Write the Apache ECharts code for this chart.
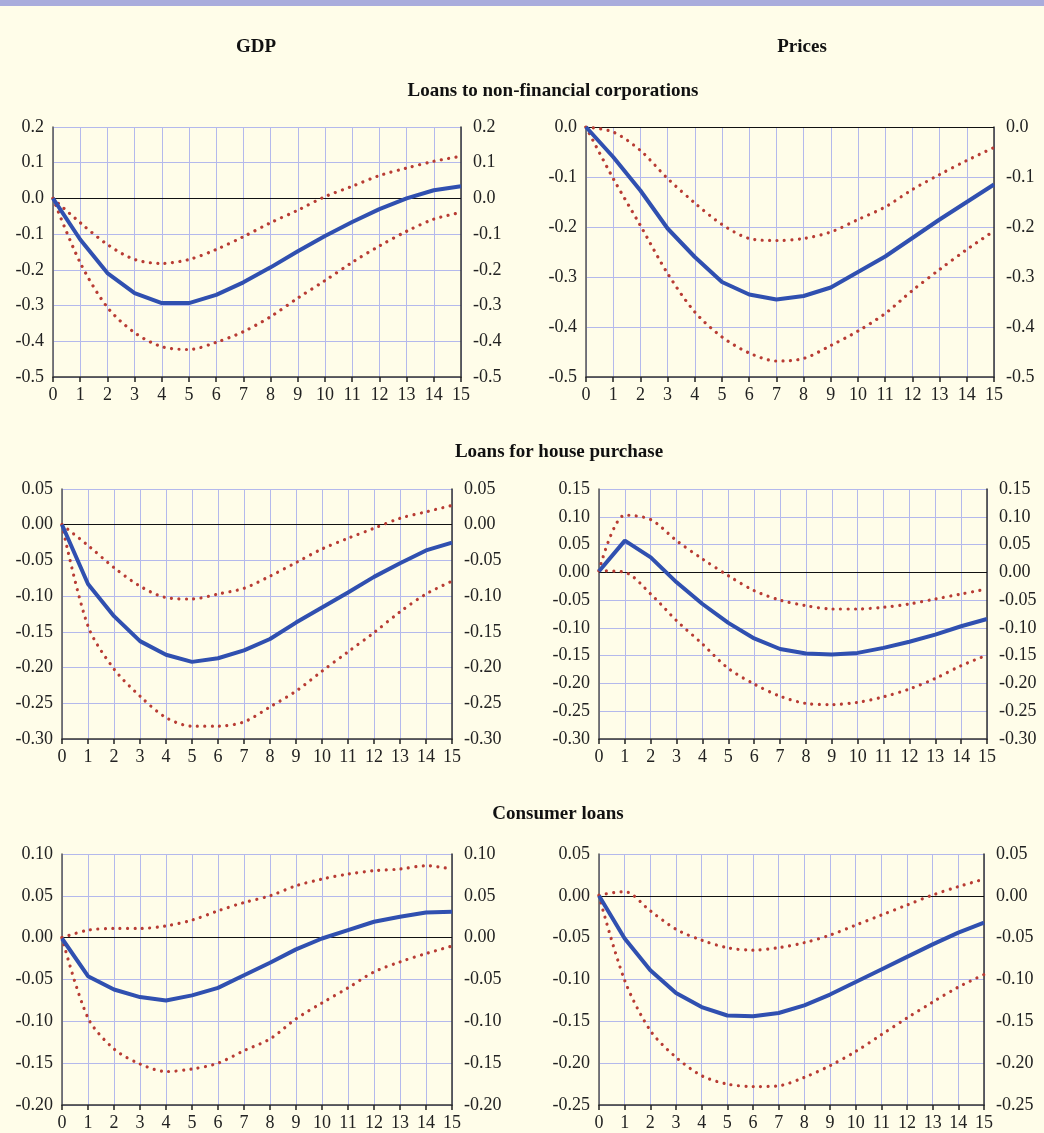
<!DOCTYPE html>
<html>
<head>
<meta charset="utf-8">
<script src="https://cdn.jsdelivr.net/npm/echarts@6/dist/echarts.min.js"></script>
<style>
  html, body { margin: 0; padding: 0; background: #fffde9; }
  #main { width: 1044px; height: 1133px; }
</style>
</head>
<body>
<div id="main"></div>
<script>
// horizon (quarters after the shock)
const steps = [0, 1, 2, 3, 4, 5, 6, 7, 8, 9, 10, 11, 12, 13, 14, 15]

// Loans to non-financial corporations
const gdpNfcMid = [0, -0.115, -0.209, -0.265, -0.293, -0.293, -0.27, -0.235, -0.193, -0.148, -0.105, -0.066, -0.03, 0.0, 0.023, 0.034]
const gdpNfcHigh = [0, -0.068, -0.129, -0.171, -0.182, -0.171, -0.143, -0.107, -0.068, -0.033, 0.005, 0.034, 0.064, 0.085, 0.104, 0.118]
const gdpNfcLow = [0, -0.18, -0.305, -0.376, -0.415, -0.423, -0.403, -0.373, -0.331, -0.279, -0.23, -0.179, -0.133, -0.092, -0.058, -0.039]
const priNfcMid = [0, -0.06, -0.127, -0.203, -0.26, -0.31, -0.335, -0.345, -0.338, -0.321, -0.29, -0.259, -0.222, -0.185, -0.15, -0.115]
const priNfcHigh = [0, -0.01, -0.047, -0.103, -0.152, -0.195, -0.223, -0.227, -0.223, -0.21, -0.185, -0.16, -0.125, -0.095, -0.067, -0.041]
const priNfcLow = [0, -0.103, -0.197, -0.293, -0.37, -0.42, -0.452, -0.468, -0.463, -0.437, -0.408, -0.373, -0.327, -0.285, -0.245, -0.208]

// Loans for house purchase
const gdpHouseMid = [0, -0.083, -0.128, -0.163, -0.182, -0.192, -0.187, -0.176, -0.16, -0.137, -0.116, -0.095, -0.073, -0.054, -0.036, -0.025]
const gdpHouseHigh = [0, -0.029, -0.06, -0.086, -0.102, -0.104, -0.097, -0.089, -0.072, -0.053, -0.034, -0.019, -0.005, 0.009, 0.018, 0.027]
const gdpHouseLow = [0, -0.142, -0.202, -0.24, -0.27, -0.282, -0.282, -0.276, -0.255, -0.233, -0.205, -0.178, -0.151, -0.122, -0.097, -0.079]
const priHouseMid = [0.002, 0.057, 0.027, -0.018, -0.057, -0.091, -0.119, -0.138, -0.146, -0.148, -0.145, -0.136, -0.125, -0.112, -0.097, -0.084]
const priHouseHigh = [0.003, 0.103, 0.095, 0.057, 0.024, -0.006, -0.033, -0.05, -0.06, -0.066, -0.066, -0.063, -0.057, -0.048, -0.039, -0.03]
const priHouseLow = [0.003, 0.0, -0.039, -0.087, -0.129, -0.173, -0.201, -0.223, -0.236, -0.238, -0.234, -0.224, -0.21, -0.191, -0.168, -0.149]

// Consumer loans
const gdpConsMid = [-0.001, -0.046, -0.062, -0.071, -0.075, -0.069, -0.06, -0.045, -0.03, -0.014, -0.001, 0.009, 0.019, 0.025, 0.03, 0.031]
const gdpConsHigh = [0, 0.009, 0.011, 0.011, 0.014, 0.021, 0.032, 0.042, 0.05, 0.062, 0.07, 0.076, 0.08, 0.082, 0.086, 0.082]
const gdpConsLow = [0, -0.096, -0.133, -0.151, -0.16, -0.157, -0.15, -0.135, -0.121, -0.097, -0.078, -0.06, -0.041, -0.029, -0.019, -0.01]
const priConsMid = [0, -0.051, -0.089, -0.116, -0.133, -0.143, -0.144, -0.14, -0.131, -0.118, -0.103, -0.088, -0.073, -0.058, -0.044, -0.032]
const priConsHigh = [0.001, 0.005, -0.018, -0.04, -0.053, -0.062, -0.065, -0.062, -0.056, -0.047, -0.035, -0.023, -0.011, 0.001, 0.011, 0.02]
const priConsLow = [0, -0.101, -0.161, -0.193, -0.215, -0.225, -0.228, -0.227, -0.217, -0.203, -0.186, -0.166, -0.146, -0.127, -0.109, -0.094]

const colTitles = ["GDP", "Prices"]
const rowTitles = ["Loans to non-financial corporations", "Loans for house purchase", "Consumer loans"]

const panels = [
  { box: [53, 127, 408, 250], min: -0.5, max: 0.2, step: 0.1, dec: 1, mid: gdpNfcMid, hi: gdpNfcHigh, lo: gdpNfcLow },
  { box: [586, 127, 408, 250], min: -0.5, max: 0, step: 0.1, dec: 1, mid: priNfcMid, hi: priNfcHigh, lo: priNfcLow },
  { box: [62, 489, 390, 250], min: -0.3, max: 0.05, step: 0.05, dec: 2, mid: gdpHouseMid, hi: gdpHouseHigh, lo: gdpHouseLow },
  { box: [599, 489, 388, 250], min: -0.3, max: 0.15, step: 0.05, dec: 2, mid: priHouseMid, hi: priHouseHigh, lo: priHouseLow },
  { box: [62, 854, 390, 251], min: -0.2, max: 0.1, step: 0.05, dec: 2, mid: gdpConsMid, hi: gdpConsHigh, lo: gdpConsLow },
  { box: [599, 854, 385, 251], min: -0.25, max: 0.05, step: 0.05, dec: 2, mid: priConsMid, hi: priConsHigh, lo: priConsLow },
]

const serif = "Liberation Serif, Times New Roman, serif"
const gridColor = "#b4b9ec"
const axisColor = "#555"

function pairs(vals) {
  return steps.map((s, i) => [s, vals[i]])
}

let grids = []
let xAxes = []
let yAxes = []
let series = []

panels.forEach((p, i) => {
  grids.push({ left: p.box[0], top: p.box[1], width: p.box[2], height: p.box[3] })
  xAxes.push({
    type: "value",
    gridIndex: i,
    min: 0,
    max: 15,
    interval: 1,
    axisLine: { show: true, onZero: false, lineStyle: { color: "#333", width: 1.5 } },
    axisTick: { show: true, length: 5, lineStyle: { color: "#222", width: 1.5 } },
    axisLabel: { color: "#222", fontFamily: serif, fontSize: 18, margin: 9 },
    splitLine: { show: true, lineStyle: { color: gridColor, width: 1 } },
  })
  let yBase = {
    type: "value",
    gridIndex: i,
    min: p.min,
    max: p.max,
    interval: p.step,
    axisTick: { show: false },
    axisLabel: {
      color: "#222",
      fontFamily: serif,
      fontSize: 18,
      formatter: (v) => v.toFixed(p.dec),
    },
  }
  yAxes.push(Object.assign({}, yBase, {
    position: "left",
    axisLine: { show: true, lineStyle: { color: axisColor, width: 1.5 } },
    axisLabel: Object.assign({}, yBase.axisLabel, { margin: 9 }),
    splitLine: { show: true, lineStyle: { color: gridColor, width: 1 } },
  }))
  yAxes.push(Object.assign({}, yBase, {
    position: "right",
    axisLine: { show: true, lineStyle: { color: "#333", width: 1.5 } },
    axisLabel: Object.assign({}, yBase.axisLabel, { margin: 12 }),
    splitLine: { show: false },
  }))

  // confidence bands: round dots
  let band = {
    type: "line",
    xAxisIndex: i,
    yAxisIndex: i * 2,
    showSymbol: false,
    smooth: 0.3,
    z: 3,
    lineStyle: { color: "#b83c34", width: 3.2, type: [0.01, 7.4], cap: "round" },
  }
  series.push(Object.assign({}, band, { data: pairs(p.hi) }))
  series.push(Object.assign({}, band, { data: pairs(p.lo) }))
  series.push({
    type: "line",
    xAxisIndex: i,
    yAxisIndex: i * 2,
    showSymbol: false,
    z: 4,
    data: pairs(p.mid),
    lineStyle: { color: "#3050b0", width: 4 },
    markLine: {
      silent: true,
      symbol: "none",
      label: { show: false },
      lineStyle: { color: "#111", width: 1, type: "solid" },
      data: [{ yAxis: 0 }],
      z: 2,
    },
  })
})

let titles = [
  { text: colTitles[0], left: 251, top: 33, textAlign: "center" },
  { text: colTitles[1], left: 797, top: 33, textAlign: "center" },
  { text: rowTitles[0], left: 548, top: 77, textAlign: "center" },
  { text: rowTitles[1], left: 554, top: 438, textAlign: "center" },
  { text: rowTitles[2], left: 553, top: 800, textAlign: "center" },
].map((t) => Object.assign(t, {
  textStyle: { fontFamily: serif, fontSize: 19, fontWeight: "bold", color: "#111" },
}))

let myChart = echarts.init(document.getElementById("main"), null, { renderer: "canvas" })
myChart.setOption({
  backgroundColor: "#fffde9",
  animation: false,
  title: titles,
  graphic: [
    { type: "rect", left: 0, top: 0, shape: { width: 1044, height: 6 }, style: { fill: "#a9acdc" } },
  ],
  grid: grids,
  xAxis: xAxes,
  yAxis: yAxes,
  series: series,
})
</script>
</body>
</html>
